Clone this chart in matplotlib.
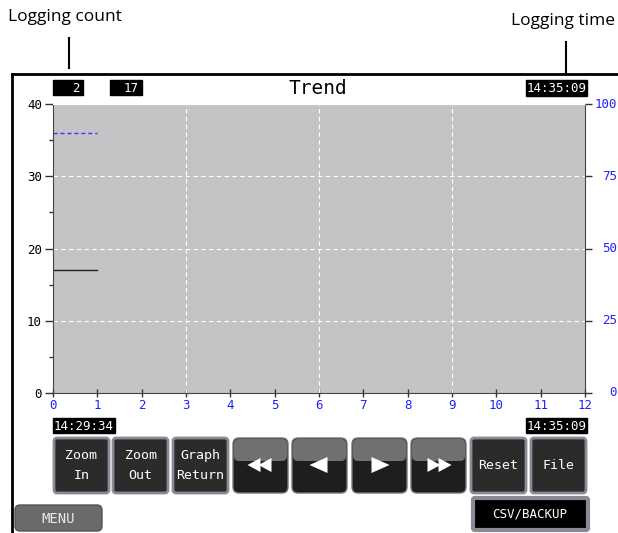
import matplotlib.pyplot as plt
from matplotlib.patches import FancyBboxPatch, Rectangle, Polygon
from matplotlib.transforms import blended_transform_factory

# trend data (left scale 0-40, right scale 0-100)
black_x = [0, 1]
black_y = [17, 17]
blue_x = [0, 1]
blue_y = [36, 36]

x_ticks = list(range(0, 13))
left_ticks = [0, 10, 20, 30, 40]
left_minor = [5, 15, 25, 35]
right_ticks = [0, 25, 50, 75, 100]

count_values = ["2", "17"]
start_time = "14:29:34"
end_time = "14:35:09"
button_labels = ["Zoom\nIn", "Zoom\nOut", "Graph\nReturn", "<<", "<", ">", ">>", "Reset", "File"]

W, H = 618, 533
mono = "DejaVu Sans Mono"
fig = plt.figure(figsize=(W / 100, H / 100), dpi=100)
fig.patch.set_facecolor("white")

# main trend axes
L, R, T, B = 53, 585, 104, 393
ax = fig.add_axes([L / W, 1 - B / H, (R - L) / W, (B - T) / H])
ax.set_facecolor("#c5c3c6")
ax.set_xlim(0, 12)
ax.set_ylim(0, 40)
ax.plot(black_x, black_y, color="#222222", lw=1)
ax.plot(blue_x, blue_y, color="#3a3aff", lw=1, ls=(0, (3, 2)))
for v in [3, 6, 9]:
    ax.axvline(v, color="white", lw=0.8, ls=(0, (4, 3)))
for v in [10, 20, 30]:
    ax.axhline(v, color="white", lw=0.8, ls=(0, (4, 3)))
ax.set_xticks(x_ticks)
ax.set_xticklabels([str(v) for v in x_ticks], color="#2020ff", fontsize=9, family=mono)
ax.set_yticks(left_ticks)
ax.set_yticks(left_minor, minor=True)
ax.set_yticklabels([str(v) for v in left_ticks], fontsize=9, family=mono)
ax.tick_params(axis="y", which="major", length=6, width=1, color="#333333", pad=2)
ax.tick_params(axis="y", which="minor", length=3, width=1, color="#333333")
ax.tick_params(axis="x", direction="inout", length=6, width=1, color="#333333", pad=1)
for s in ["left", "bottom", "right"]:
    ax.spines[s].set_color("#444444")
ax.spines["top"].set_color("white")
ax.spines["top"].set_linestyle((0, (1, 1)))

axr = ax.twinx()
axr.set_ylim(0, 100)
axr.set_yticks(right_ticks)
axr.tick_params(axis="y", length=5, width=1, color="#333333", labelright=False)
for s in axr.spines.values():
    s.set_visible(False)

# overlay in pixel coordinates
ov = fig.add_axes([0, 0, 1, 1], zorder=-1)
ov.set_xlim(0, W)
ov.set_ylim(H, 0)
ov.axis("off")
top = fig.add_axes([0, 0, 1, 1], zorder=5)
top.set_xlim(0, W)
top.set_ylim(H, 0)
top.axis("off")
top.patch.set_alpha(0)

# right scale labels, right-aligned near the figure edge
rtrans = blended_transform_factory(top.transData, axr.transData)
for v in right_ticks:
    top.text(617, v, str(v), transform=rtrans, color="#2020ff", fontsize=9,
             family=mono, ha="right", va="center")

# frame and annotations
ov.plot([12, W], [74, 74], color="black", lw=2)
ov.plot([12, 12], [74, H], color="black", lw=2)
ov.text(8, 17, "Logging count", fontsize=12.5, family="Open Sans", va="center")
ov.plot([69, 69], [38, 68], color="black", lw=1.5)
ov.text(615, 21, "Logging time", fontsize=12.5, family="Open Sans", va="center", ha="right")
ov.plot([566, 566], [42, 72], color="black", lw=1.5)


def black_box(a, x0, x1, y0, y1, text, ha="right"):
    a.add_patch(Rectangle((x0, y0), x1 - x0, y1 - y0, color="black"))
    tx = x1 - 3 if ha == "right" else (x0 + x1) / 2
    a.text(tx, (y0 + y1) / 2 + 0.5, text, color="white", fontsize=9, family=mono,
           ha=ha, va="center")


black_box(top, 53, 83, 80, 95, count_values[0])
black_box(top, 110, 142, 80, 95, count_values[1])
black_box(top, 526, 587, 80, 96, end_time, ha="center")
black_box(top, 53, 115, 418, 433, start_time, ha="center")
black_box(top, 526, 587, 418, 433, end_time, ha="center")
top.text(318, 88, "Trend", fontsize=14, family=mono, ha="center", va="center")

# buttons
btn_x = [53, 112, 172, 232, 291, 351, 410, 470, 530]
bw, by0, by1 = 57, 437, 494
for x0, lab in zip(btn_x, button_labels):
    if lab in ["<<", "<", ">", ">>"]:
        top.add_patch(FancyBboxPatch((x0 + 1, by0 + 1), bw - 2, by1 - by0 - 2,
                                     boxstyle="round,pad=0,rounding_size=6",
                                     fc="#1e1e1e", ec="#777777", lw=1))
        top.add_patch(FancyBboxPatch((x0 + 2, by0 + 2), bw - 4, 22,
                                     boxstyle="round,pad=0,rounding_size=5",
                                     fc="#707070", ec="none"))
        cx, cy = x0 + bw / 2, 465
        if lab == "<<":
            tris = [[(cx - 13, cy), (cx, cy - 7), (cx, cy + 7)],
                    [(cx - 2, cy), (cx + 11, cy - 7), (cx + 11, cy + 7)]]
        elif lab == "<":
            tris = [[(cx - 10, cy), (cx + 8, cy - 8), (cx + 8, cy + 8)]]
        elif lab == ">":
            tris = [[(cx + 10, cy), (cx - 8, cy - 8), (cx - 8, cy + 8)]]
        else:
            tris = [[(cx + 2, cy), (cx - 11, cy - 7), (cx - 11, cy + 7)],
                    [(cx + 13, cy), (cx, cy - 7), (cx, cy + 7)]]
        for tr in tris:
            top.add_patch(Polygon(tr, closed=True, fc="white", ec="none"))
    else:
        top.add_patch(FancyBboxPatch((x0 + 1, by0 + 1), bw - 2, by1 - by0 - 2,
                                     boxstyle="round,pad=0,rounding_size=3",
                                     fc="#2b2b2b", ec="#8a8a96", lw=2))
        top.text(x0 + bw / 2, (by0 + by1) / 2, lab, color="white", fontsize=9.5,
                 family=mono, ha="center", va="center", linespacing=1.7)

# MENU and CSV/BACKUP
top.add_patch(FancyBboxPatch((15, 505), 87, 26, boxstyle="round,pad=0,rounding_size=5",
                             fc="#6a6a6a", ec="#555555", lw=1))
top.text(58, 519, "MENU", color="#e8e8e8", fontsize=10, family=mono, ha="center", va="center")
top.add_patch(FancyBboxPatch((473, 498), 115, 32, boxstyle="round,pad=0,rounding_size=2",
                             fc="black", ec="#8a8a96", lw=3))
top.text(530, 514, "CSV/BACKUP", color="white", fontsize=9, family=mono, ha="center", va="center")

fig.savefig("out.png", dpi=100)
